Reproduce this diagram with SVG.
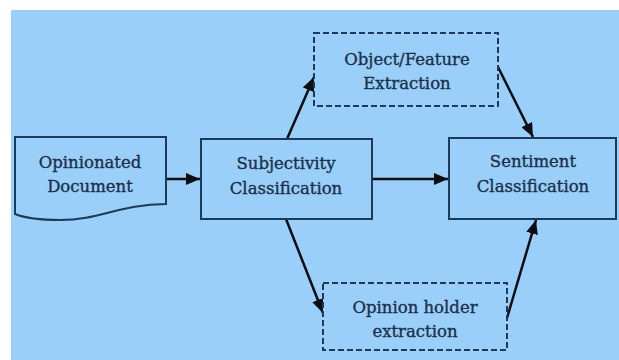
<svg xmlns="http://www.w3.org/2000/svg" width="619" height="360" viewBox="0 0 619 360">
<defs>
<marker id="ah" markerUnits="userSpaceOnUse" markerWidth="14" markerHeight="12" viewBox="0 0 14 12" refX="14" refY="6" orient="auto">
<path d="M0,0 L14,6 L0,12 Z" fill="#0d0d12"/>
</marker>
<style>
.box{fill:#99cff8;stroke:#1d3a58;stroke-width:2}
.dash{fill:#99cff8;stroke:#1d3a58;stroke-width:2;stroke-dasharray:6 3}
.t{font-family:"DejaVu Serif","Liberation Serif",serif;font-size:16.5px;fill:#1b2f4a;stroke:#1b2f4a;stroke-width:0.35;text-anchor:middle}
.c{stroke:#0d0d12;stroke-width:2.5;fill:none;marker-end:url(#ah)}
</style>
</defs>
<rect x="0" y="0" width="619" height="360" fill="#ffffff"/>
<rect x="11" y="10" width="608" height="350" fill="#99cff8"/>
<g id="connectors">
<line class="c" x1="166" y1="179" x2="200" y2="179"/>
<line class="c" x1="372" y1="179" x2="448" y2="179"/>
<line class="c" x1="287" y1="139" x2="314" y2="77"/>
<line class="c" x1="498" y1="67" x2="533" y2="137"/>
<line class="c" x1="286" y1="219" x2="323" y2="313"/>
<line class="c" x1="507" y1="318" x2="536" y2="220"/>
</g>
<g id="opinionated-document">
<path class="box" d="M15,137 H166 V204 C120,204 100,220 60,220 C40,220 25,218 15,214 Z"/>
<text class="t" x="90" y="168">Opinionated</text>
<text class="t" x="90" y="192">Document</text>
</g>
<g id="subjectivity-classification">
<rect class="box" x="201" y="139" width="171" height="80"/>
<text class="t" x="286" y="169">Subjectivity</text>
<text class="t" x="286" y="194">Classification</text>
</g>
<g id="object-feature-extraction">
<rect class="dash" x="314" y="33" width="184" height="73"/>
<text class="t" x="407" y="65">Object/Feature</text>
<text class="t" x="407" y="89">Extraction</text>
</g>
<g id="sentiment-classification">
<rect class="box" x="449" y="138" width="167" height="81"/>
<text class="t" x="533" y="167">Sentiment</text>
<text class="t" x="533" y="192">Classification</text>
</g>
<g id="opinion-holder-extraction">
<rect class="dash" x="323" y="283" width="184" height="67"/>
<text class="t" x="415" y="313">Opinion holder</text>
<text class="t" x="415" y="337">extraction</text>
</g>
</svg>
